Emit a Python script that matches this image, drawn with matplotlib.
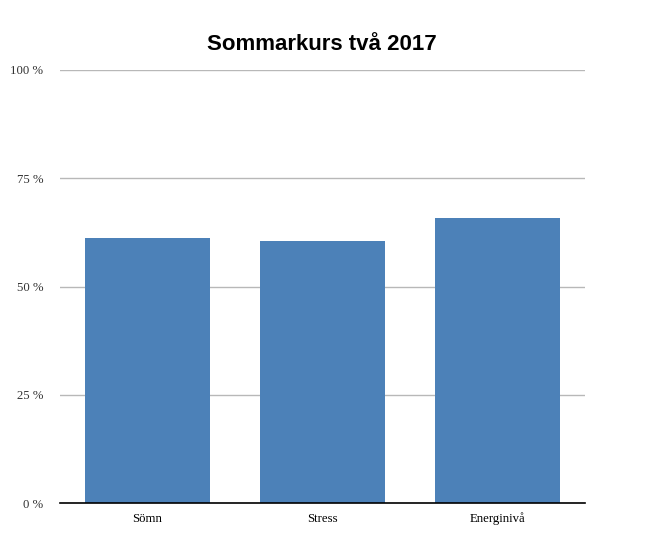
import matplotlib
matplotlib.use("Agg")
import matplotlib.pyplot as plt

categories = ["Sömn", "Stress", "Energinivå"]
values = [61.1, 60.5, 65.8]
yticks = [0, 25, 50, 75, 100]
ylabels = ["0 %", "25 %", "50 %", "75 %", "100 %"]

fig = plt.figure(figsize=(6.49, 5.5), dpi=100)
ax = fig.add_axes([60/649, 47/550, 525/649, 433/550])

ax.bar(range(len(categories)), values, width=0.714, color="#4c81b8", zorder=3)
ax.set_xlim(-0.5, len(categories) - 0.5)
ax.set_ylim(0, 100)
ax.set_yticks(yticks)
ax.set_yticklabels(ylabels, fontfamily="Liberation Serif", fontsize=9.2, color="#333333")
ax.set_xticks(range(len(categories)))
ax.set_xticklabels(categories, fontfamily="Liberation Serif", fontsize=9.2)
ax.tick_params(length=0)
ax.tick_params(axis="x", pad=7)
ax.tick_params(axis="y", pad=12)
ax.grid(axis="y", color="#b8b8b8", linewidth=1, zorder=0)
for s in ["top", "right", "left"]:
    ax.spines[s].set_visible(False)
ax.spines["bottom"].set_color("black")
ax.spines["bottom"].set_linewidth(1.2)
ax.spines["bottom"].set_zorder(4)

fig.text(322/649, 1 - 44/550, "Sommarkurs två 2017", ha="center", va="center",
         fontfamily="Liberation Sans", fontweight="bold", fontsize=16)

fig.savefig("out.png", dpi=100)
